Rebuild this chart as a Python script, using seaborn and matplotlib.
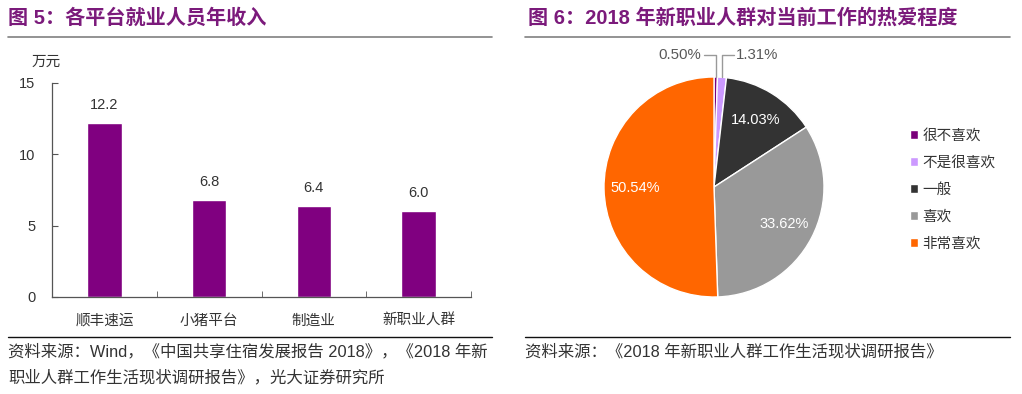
import numpy as np
import matplotlib
matplotlib.use("Agg")
import matplotlib.pyplot as plt
import seaborn as sns

# ---------------------------
# DATA
# ---------------------------
bar_categories = ["顺丰速运", "小猪平台", "制造业", "新职业人群"]
bar_values = [12.2, 6.8, 6.4, 6.0]
bar_yticks = [0, 5, 10, 15]

pie_labels = ["很不喜欢", "不是很喜欢", "一般", "喜欢", "非常喜欢"]
pie_values = [0.50, 1.31, 14.03, 33.62, 50.54]
pie_colors = ["#7a007a", "#cc99ff", "#333333", "#999999", "#ff6600"]

title_left = "图 5：各平台就业人员年收入"
title_right = "图 6：2018 年新职业人群对当前工作的热爱程度"
source_left = ["资料来源：Wind，《中国共享住宿发展报告 2018》，《2018 年新",
               "职业人群工作生活现状调研报告》，光大证券研究所"]
source_right = "资料来源：《2018 年新职业人群工作生活现状调研报告》"

# ---------------------------
# STYLE
# ---------------------------
sns.set_style("ticks")
plt.rcParams["font.family"] = ["Liberation Sans", "Noto Sans CJK SC", "DejaVu Sans"]
W, H = 1022, 394
TITLE_C = "#7b1a7b"
TEXT_C = "#333333"


def fx(px):
    return px / W


def fy(py):
    return 1 - py / H


fig = plt.figure(figsize=(W / 100, H / 100), dpi=100)

# titles and rules
fig.text(fx(8), fy(18), title_left, color=TITLE_C, fontsize=14.5, fontweight="bold", va="center")
fig.text(fx(528), fy(18), title_right, color=TITLE_C, fontsize=14.5, fontweight="bold", va="center")
for x0, x1 in [(8, 492), (525, 1010)]:
    fig.add_artist(plt.Line2D([fx(x0), fx(x1)], [fy(37), fy(37)], color="#808080", lw=1.2))
    fig.add_artist(plt.Line2D([fx(x0), fx(x1)], [fy(337), fy(337)], color="#111111", lw=1.0))

fig.text(fx(8), fy(352), source_left[0], color=TEXT_C, fontsize=11.8, va="center")
fig.text(fx(8), fy(378), source_left[1], color=TEXT_C, fontsize=11.8, va="center")
fig.text(fx(525), fy(352), source_right, color=TEXT_C, fontsize=11.8, va="center")

# ---------------------------
# BAR CHART
# ---------------------------
ax = fig.add_axes([fx(52), fy(297), fx(471) - fx(52), (297 - 83) / H])
sns.barplot(x=bar_categories, y=bar_values, color="#800080", width=0.33,
            saturation=1, ax=ax)
ax.set_ylim(0, 15)
ax.set_xlim(-0.5, len(bar_categories) - 0.5)
ax.set_yticks(bar_yticks)
ax.set_xticks(np.arange(len(bar_categories) + 1) - 0.5, minor=True)
ax.tick_params(axis="x", which="major", length=0, pad=12, labelsize=10.5, colors=TEXT_C)
ax.tick_params(axis="x", which="minor", direction="in", length=4, color="#555555")
ax.tick_params(axis="y", direction="in", length=4, pad=12, labelsize=10.5,
               colors=TEXT_C, color="#555555")
for s in ["top", "right"]:
    ax.spines[s].set_visible(False)
for s in ["left", "bottom"]:
    ax.spines[s].set_color("#555555")
    ax.spines[s].set_linewidth(0.9)
ax.set_xlabel("")
ax.set_ylabel("")
ax.bar_label(ax.containers[0], fmt="%.1f", padding=8, fontsize=10.5, color=TEXT_C)
fig.text(fx(46), fy(62), "万元", fontsize=10.5, color=TEXT_C, ha="center", va="center")

# ---------------------------
# PIE CHART
# ---------------------------
cx, cy, r = 714, 187, 110
pax = fig.add_axes([fx(cx - r), fy(cy + r), 2 * r / W, 2 * r / H])


def pct_fmt(p):
    return f"{p:.2f}%" if p > 5 else ""


wedges, _, autotexts = pax.pie(pie_values, colors=pie_colors, startangle=90,
                               counterclock=False, autopct=pct_fmt, pctdistance=0.72,
                               textprops=dict(color="white", fontsize=10.5))
pax.set_xlim(-1, 1)
pax.set_ylim(-1, 1)
pax.set_aspect("equal")
pax.axis("off")

# leader lines for the two small slices
cum = np.cumsum([0] + pie_values[:-1])
for i, side in [(0, -1), (1, 1)]:
    mid = (cum[i] + pie_values[i] / 2) / 100 * 2 * np.pi
    ex, ey = np.sin(mid), np.cos(mid)
    ly = 1.2
    tx = ex + side * 0.11
    pax.plot([ex, ex, tx], [ey, ly, ly], color="#999999", lw=1.0, clip_on=False)
    pax.text(tx + side * 0.02, ly, f"{pie_values[i]:.2f}%", color="#595959", fontsize=10.8,
             ha="left" if side > 0 else "right", va="center", clip_on=False)

fig.legend(wedges, pie_labels, loc="upper left", bbox_to_anchor=(fx(903), fy(121)),
           frameon=False, fontsize=10.5, handlelength=0.55, handleheight=0.55,
           handletextpad=0.3, labelspacing=0.9, borderpad=0, labelcolor=TEXT_C)

fig.savefig("out.png", dpi=100)
